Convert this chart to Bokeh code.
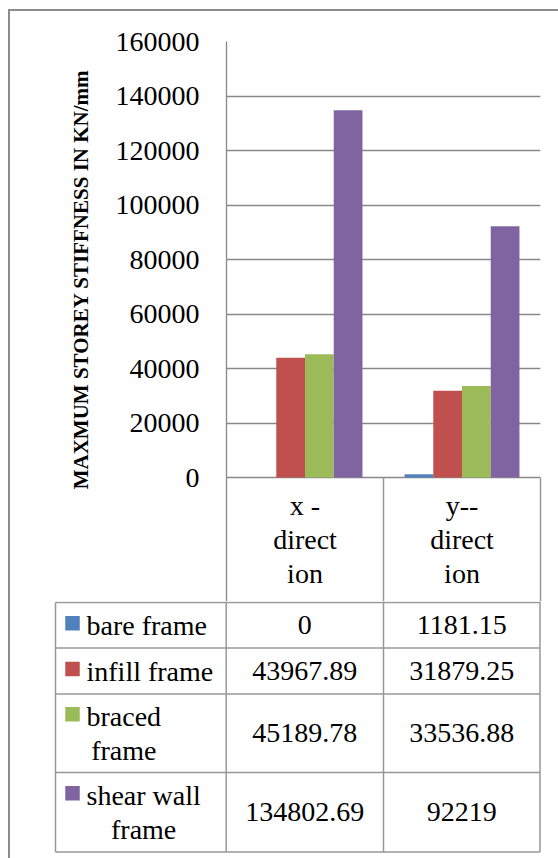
from bokeh.plotting import figure
from bokeh.models import (ColumnDataSource, Range1d, FactorRange, FixedTicker,
                          NumeralTickFormatter, LinearAxis)
from bokeh.transform import dodge
from bokeh.layouts import column
from bokeh.embed import file_html
from bokeh.resources import INLINE
from bokeh.core.properties import value

# ---------------- data ----------------
categories = ["x - direction", "y-- direction"]
category_labels = ["x -\ndirect\nion", "y--\ndirect\nion"]
series_names = ["bare frame", "infill frame", "braced frame", "shear wall frame"]
series_labels = ["bare frame", "infill frame", "braced\nframe", "shear wall\nframe"]
bare_frame = [0, 1181.15]
infill_frame = [43967.89, 31879.25]
braced_frame = [45189.78, 33536.88]
shear_wall_frame = [134802.69, 92219]
y_ticks = [0, 20000, 40000, 60000, 80000, 100000, 120000, 140000, 160000]
y_max = 160000
y_title = "MAXMUM STOREY STIFFNESS IN KN/mm"

# ---------------- style / layout ----------------
colors = ["#4F81BD", "#C0504D", "#9BBB59", "#8064A2"]
FONT = "Liberation Serif"
GRID = "#898989"
TABLE_LINE = "#979797"
BAR_W = 0.183
FS = "28px"
LINE_H = 1.09

P1_TOP, FRAME_TOP, ZERO_Y, P1_BOTTOM = 11, 41, 477, 601
y_start = -y_max * (P1_BOTTOM - ZERO_Y) / (ZERO_Y - FRAME_TOP)

series_values = [bare_frame, infill_frame, braced_frame, shear_wall_frame]
keys = ["bare", "infill", "braced", "shear"]

src = ColumnDataSource(dict(cat=categories, bare=bare_frame, infill=infill_frame,
                            braced=braced_frame, shear=shear_wall_frame))

# ---------------- chart (with category row of the table) ----------------
p1 = figure(x_range=FactorRange(*categories, range_padding=0),
            y_range=Range1d(y_start, y_max),
            width=548, height=P1_BOTTOM - P1_TOP,
            min_border_left=216, min_border_right=18,
            min_border_top=FRAME_TOP - P1_TOP, min_border_bottom=0,
            x_axis_location=None,
            output_backend="svg", toolbar_location=None,
            outline_line_color=None, background_fill_color="white", border_fill_color="white")
p1.frame_align = False

n = len(keys)
for i, (k, c) in enumerate(zip(keys, colors)):
    off = (i - (n - 1) / 2) * BAR_W
    p1.vbar(x=dodge("cat", off, range=p1.x_range), top=k, width=BAR_W, source=src,
            fill_color=c, line_color=None)

ax = p1.yaxis[0]
ax.ticker = FixedTicker(ticks=y_ticks)
ax.formatter = NumeralTickFormatter(format="0")
ax.major_label_text_font = FONT
ax.major_label_text_font_size = FS
ax.major_label_text_color = "black"
ax.major_tick_out = 0
ax.major_tick_in = 0
ax.minor_tick_out = 0
ax.minor_tick_in = 0
ax.axis_line_color = GRID
ax.axis_line_width = 1.3
ax.major_label_standoff = 27
ax.axis_label = "\u00a0" * 16 + y_title
ax.axis_label_text_font = FONT
ax.axis_label_text_font_style = "bold"
ax.axis_label_text_font_size = "21px"
ax.axis_label_text_color = "black"
ax.axis_label_standoff = 20

# right edge of the category row
rax = LinearAxis(bounds=(y_start, 0), ticker=FixedTicker(ticks=[]),
                 axis_line_color=TABLE_LINE, axis_line_width=1.5,
                 major_tick_out=0, major_tick_in=0, minor_tick_out=0, minor_tick_in=0,
                 major_label_text_font_size="0px", major_label_standoff=0)
p1.add_layout(rax, "right")

p1.xgrid.visible = False
p1.ygrid.grid_line_color = GRID
p1.ygrid.grid_line_width = 1.3

# divider between the category cells and category labels
p1.segment(x0=[1], y0=[y_start], x1=[1], y1=[0], line_color=TABLE_LINE, line_width=1.5)
p1.text(x=categories, y=[y_start / 2] * len(categories), text=category_labels,
        text_align="center", text_baseline="middle", text_font=value(FONT),
        text_font_size=FS, text_color="black", text_line_height=LINE_H)

# ---------------- data table rows ----------------
X_LEG = 55
X_COLS = [225.7, 383, 539.5]
ROW_EDGES = [602, 647.5, 693.5, 772, 851.5]
TEXT_X = 86
SWATCH_X = 72
LINE_SP = 33.8

p2 = figure(width=548, height=858 - P1_BOTTOM, x_range=Range1d(10, 558),
            y_range=Range1d(858, P1_BOTTOM),
            min_border=0, x_axis_location=None, y_axis_location=None,
            output_backend="svg", toolbar_location=None,
            outline_line_color=None, background_fill_color="white", border_fill_color="white")
p2.frame_align = False
p2.grid.visible = False

x0s, y0s, x1s, y1s = [], [], [], []
for xc in [X_LEG] + X_COLS:
    x0s.append(xc); y0s.append(P1_BOTTOM); x1s.append(xc); y1s.append(ROW_EDGES[-1])
for ye in ROW_EDGES:
    x0s.append(X_LEG); y0s.append(ye); x1s.append(X_COLS[-1]); y1s.append(ye)
# the legend column starts at the first row edge
y0s[0] = ROW_EDGES[0]
p2.segment(x0=x0s, y0=y0s, x1=x1s, y1=y1s, line_color=TABLE_LINE, line_width=1.5)

col_centers = [(X_COLS[j] + X_COLS[j + 1]) / 2 for j in range(len(categories))]


def fmt(v):
    s = "%.2f" % v
    return s.rstrip("0").rstrip(".")


vx, vy, vt = [], [], []
lx, ly, lt, sx, sy = [], [], [], [], []
for i, vals in enumerate(series_values):
    yc = (ROW_EDGES[i] + ROW_EDGES[i + 1]) / 2
    for j, v in enumerate(vals):
        vx.append(col_centers[j]); vy.append(yc); vt.append(fmt(v))
    nl = series_labels[i].count("\n") + 1
    lx.append(TEXT_X); ly.append(yc); lt.append(series_labels[i])
    sx.append(SWATCH_X); sy.append(yc - 2 - (nl - 1) * LINE_SP / 2)

p2.text(x=vx, y=vy, text=vt, text_align="center", text_baseline="middle",
        text_font=value(FONT), text_font_size=FS, text_color="black")
p2.text(x=lx, y=ly, text=lt, text_align="center", text_baseline="middle",
        anchor=value("center_left"),
        text_font=value(FONT), text_font_size=FS, text_color="black", text_line_height=LINE_H)
p2.rect(x=sx, y=sy, width=14.5, height=14.5, fill_color=colors, line_color=None)

layout = column(p1, p2, styles={"margin-left": "8px", "margin-top": "9px",
                                "border-left": "2px solid #8c8c8c",
                                "border-top": "2px solid #8c8c8c"})

open("out.html", "w").write(file_html(layout, INLINE))
